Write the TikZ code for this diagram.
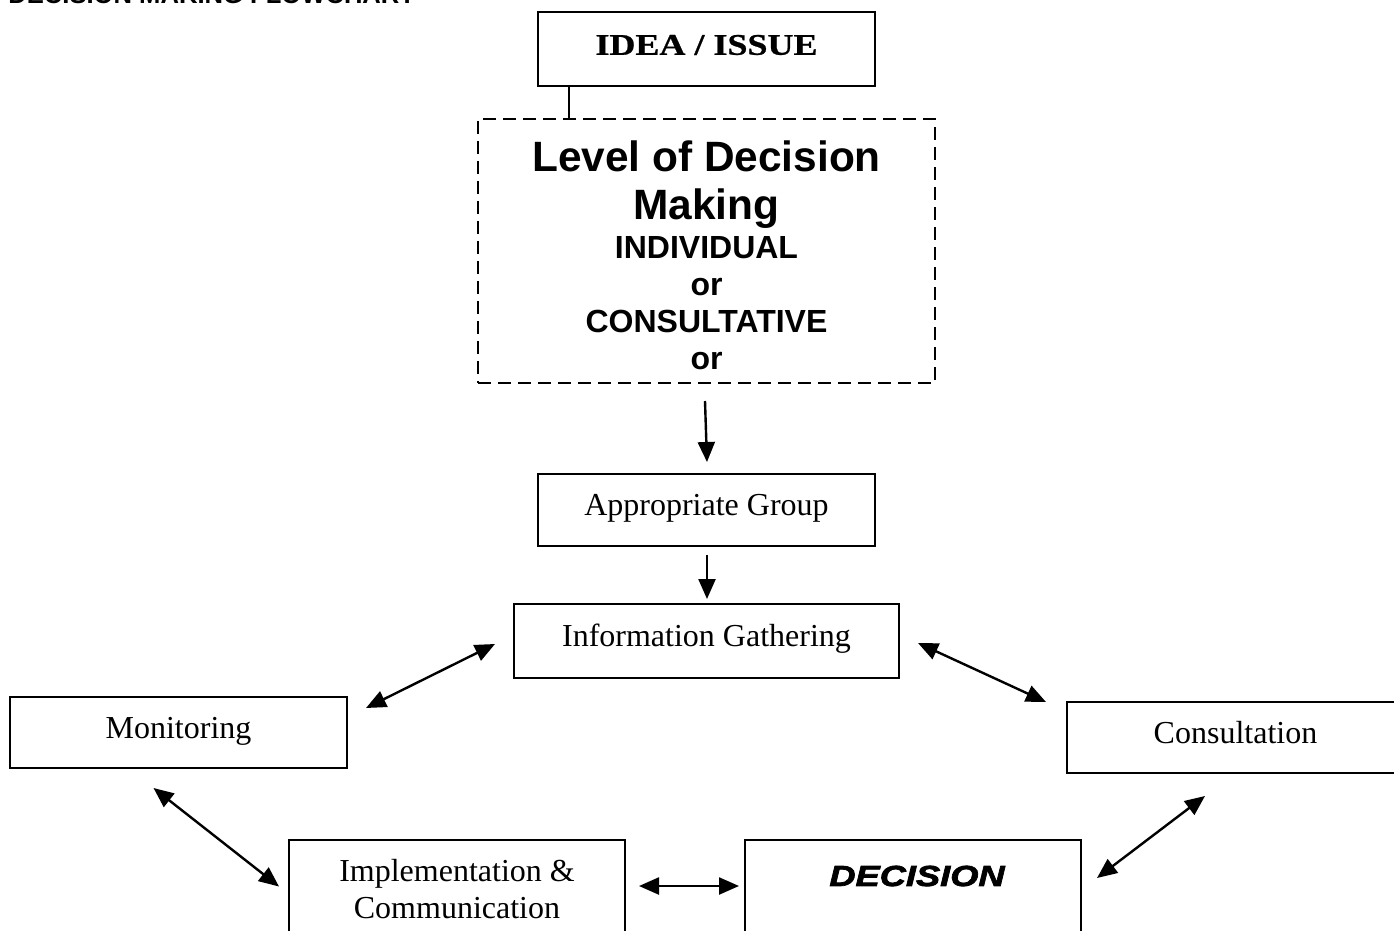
\documentclass[tikz,border=0pt]{standalone}
\usepackage{fontspec}
\setmainfont{Liberation Serif}
\newfontfamily\arialbf{Liberation Sans Bold}
\newfontfamily\ideafont{Liberation Serif Bold}[FakeStretch=1.2,FakeBold=0.8]
\newfontfamily\decfont{Liberation Sans Bold Italic}[FakeStretch=1.25,FakeBold=2.5]
\usetikzlibrary{arrows.meta,calc}
\begin{document}
\begin{tikzpicture}[x=0.5pt,y=-0.5pt,
  box/.style={draw, line width=1pt, inner sep=0pt},
  dbox/.style={draw, line width=1pt, dash pattern=on 6.5pt off 3.5pt, inner sep=0pt},
  txt/.style={font=\fontsize{16}{18.5}\selectfont, align=center},
  one/.style={text height=0.8em, text depth=0.22em},
  arr/.style={line width=1.2pt, -{Triangle[length=10pt,width=8.5pt]}},
  darr/.style={line width=1.2pt, {Triangle[length=10pt,width=8.5pt]}-{Triangle[length=10pt,width=8.5pt]}},
  ]
\useasboundingbox (0,0) rectangle (1394,931);
\node[anchor=base west, font=\arialbf\fontsize{12.8}{15}\selectfont, inner sep=0pt] (title) at (8,4) {DECISION MAKING FLOWCHART};

\node[box, minimum width=168.5pt, minimum height=37pt] (idea) at (706.5,49) {};
\node[font=\ideafont\fontsize{15}{17}\selectfont, inner sep=0pt] (ideatext) at (706.5,45) {IDEA / ISSUE};

\node[dbox, minimum width=228.5pt, minimum height=132pt] (lvl) at (706.5,251) {};
\node[anchor=north, text width=230pt, inner sep=0pt, font=\arialbf] (lvltext) at (706.5,140)
  {\parindent=0pt\leftskip=0pt plus 1fil\rightskip=0pt plus 1fil\parfillskip=0pt
   \spaceskip=0pt\xspaceskip=0pt\fontsize{21.2}{24}\selectfont Level of Decision\par Making\par
   \vskip1pt\fontsize{16}{18.5}\selectfont INDIVIDUAL\par or\par CONSULTATIVE\par or\par};

\node[box, txt, one, minimum width=168.5pt, minimum height=36pt] (grp) at (706.5,510) {Appropriate Group};
\node[box, txt, one, minimum width=192.5pt, minimum height=37pt] (info) at (706.5,641) {Information Gathering};
\node[box, txt, one, minimum width=168.5pt, minimum height=35.5pt] (mon) at (178.5,732.5) {Monitoring};
\node[box, txt, one, minimum width=168.5pt, minimum height=35.5pt] (cons) at (1235.5,737.5) {Consultation};
\node[box, minimum width=168pt, minimum height=52.5pt] (impl) at (457,892.5) {};
\node[txt, inner sep=0pt] (impltext) at (457,889) {Implementation \&\\Communication};
\node[box, minimum width=168pt, minimum height=52.5pt] (dec) at (913,892.5) {};
\node[font=\decfont\fontsize{14.5}{16}\selectfont, inner sep=0pt] (dectext) at (917,876) {DECISION};

\coordinate (ideaout) at ($(idea.south west)+(32,0)$);
\draw[line width=1pt] (ideaout) -- (ideaout |- lvl.north);
\draw[arr] ($(lvl.south)+(-1.5,17)$) -- ($(grp.north)+(0.5,-11)$);
\draw[arr] ($(grp.south)+(0.5,8)$) -- ($(info.north)+(0.5,-4)$);
\draw[darr] ($(info.west)+(-18,3)$) -- ($(mon.north east)+(18,12)$);
\draw[darr] ($(info.east)+(18,2)$) -- ($(cons.north west)+(-20,1)$);
\draw[darr] ($(mon.south)+(-25,19)$) -- ($(impl.west)+(-9,-6)$);
\draw[darr] ($(impl.east)+(13,-6.5)$) -- ($(dec.west)+(-5,-6.5)$);
\draw[darr] ($(dec.east)+(15,-14.5)$) -- ($(cons.south)+(-30.5,22)$);
\end{tikzpicture}
\end{document}
